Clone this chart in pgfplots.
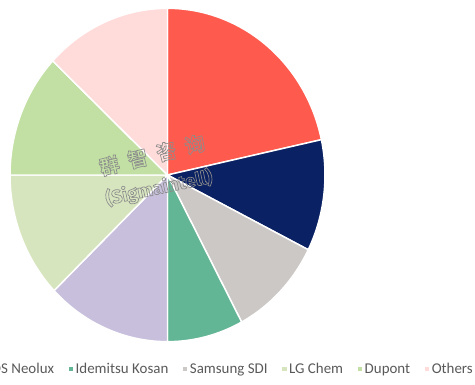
\documentclass[border=0pt]{standalone}
\usepackage{pgfplots}
\usepackage{pgfplotstable}
\pgfplotsset{compat=1.18}
\usepackage{fontspec}
\setmainfont{Carlito}
\newfontfamily\cjk{Noto Sans CJK SC}[BoldFont={* Bold}]
\newfontfamily\wmfont{Fira Sans}
\definecolor{cRed}{HTML}{FF5A4E}
\definecolor{cNavy}{HTML}{0A2163}
\definecolor{cGray}{HTML}{CBC8C6}
\definecolor{cGreen}{HTML}{62B595}
\definecolor{cLav}{HTML}{C7BFDC}
\definecolor{cPale}{HTML}{D7E5BF}
\definecolor{cLight}{HTML}{C2E0A3}
\definecolor{cPink}{HTML}{FFDCDA}
\definecolor{legtext}{HTML}{595959}
\pgfplotstableread[col sep=comma]{
value,color
21.6,cRed
10.8,cNavy
9.8,cGray
7.8,cGreen
12.8,cLav
12.2,cPale
12.0,cLight
13.0,cPink
}\piedata
\begin{document}
\begin{tikzpicture}
\useasboundingbox (0,0) rectangle (356.25pt,288.75pt);
\clip (0,0) rectangle (356.25pt,288.75pt);
\begin{axis}[
  at={(0,0)}, anchor=south west,
  scale only axis, width=356.25pt, height=288.75pt,
  xmin=0, xmax=475, ymin=0, ymax=385,
  hide axis,
  legend columns=-1,
  legend image code/.code={\path[#1, draw=none] (0pt,-1.6pt) rectangle (3.2pt,1.6pt);},
  legend style={draw=none, fill=none, at={(axis description cs:1.0099,0.041)}, anchor=east,
    font=\fontsize{11.2}{13}\selectfont\color{legtext},
    /tikz/every even column/.append style={column sep=9pt}},
]
\addplot[draw=none, forget plot] coordinates {(0,0)};
\def\cum{0}
\pgfplotsforeachungrouped \i in {0,...,7}{%
  \pgfplotstablegetelem{\i}{value}\of\piedata \let\val\pgfplotsretval
  \pgfplotstablegetelem{\i}{color}\of\piedata \let\col\pgfplotsretval
  \pgfmathsetmacro\sa{90-\cum*3.6}%
  \pgfmathsetmacro\ea{90-(\cum+\val)*3.6}%
  \edef\temp{\noexpand\filldraw[fill=\col, draw=white, line width=1.1pt, line join=round]
    (axis cs:167.5,210) -- ++(\sa:118.1pt and 125pt)
    arc[start angle=\sa, end angle=\ea, x radius=118.1pt, y radius=125pt] -- cycle;}%
  \temp
  \pgfmathsetmacro\cum{\cum+\val}%
}
\node[rotate=14, text=black!45, font=\cjk\bfseries\fontsize{15}{15}\selectfont] at (axis cs:152,230)
  {\special{pdf:code 1 Tr 0.5 w}群\hspace{7pt}智\hspace{7pt}咨\hspace{7pt}询\special{pdf:code 0 Tr}};
\node[rotate=12, text=black!45, font=\wmfont\bfseries\fontsize{14}{14}\selectfont] at (axis cs:159,197)
  {\special{pdf:code 1 Tr 0.5 w}(Sigmaintell)\special{pdf:code 0 Tr}};
\addlegendimage{fill=cRed}\addlegendentry{UDC}
\addlegendimage{fill=cNavy}\addlegendentry{Merck}
\addlegendimage{fill=cLav}\addlegendentry{DS Neolux}
\addlegendimage{fill=cGreen}\addlegendentry{Idemitsu Kosan}
\addlegendimage{fill=cGray}\addlegendentry{Samsung SDI}
\addlegendimage{fill=cPale}\addlegendentry{LG Chem}
\addlegendimage{fill=cLight}\addlegendentry{Dupont}
\addlegendimage{fill=cPink}\addlegendentry{Others}
\end{axis}
\end{tikzpicture}
\end{document}
